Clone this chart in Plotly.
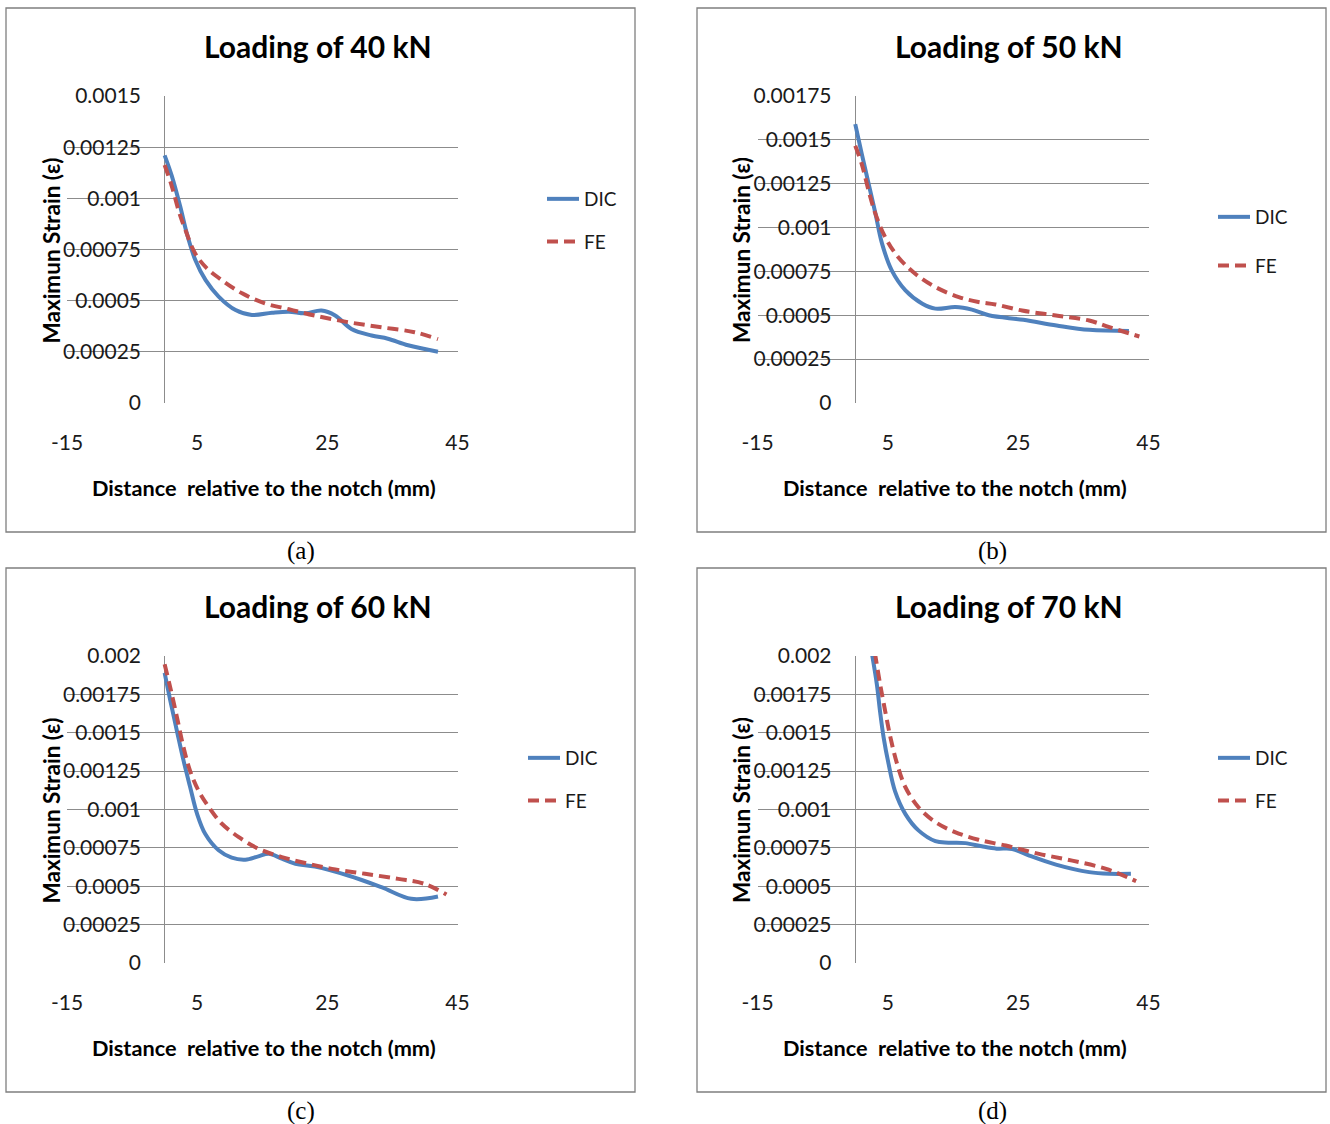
import plotly.graph_objects as go

W, H = 1330, 1124

# ---------------- data ----------------
titles = ["Loading of 40 kN", "Loading of 50 kN", "Loading of 60 kN", "Loading of 70 kN"]
captions = ["(a)", "(b)", "(c)", "(d)"]
series_names = ["DIC", "FE"]
x_ticks = [-15, 5, 25, 45]
x_title = "Distance  relative to the notch (mm)"
y_title = "Maximun Strain (\u03b5)"

y_ticks_a = [0, 0.00025, 0.0005, 0.00075, 0.001, 0.00125, 0.0015]
y_text_a = ["0", "0.00025", "0.0005", "0.00075", "0.001", "0.00125", "0.0015"]
y_ticks_b = [0, 0.00025, 0.0005, 0.00075, 0.001, 0.00125, 0.0015, 0.00175]
y_text_b = ["0", "0.00025", "0.0005", "0.00075", "0.001", "0.00125", "0.0015", "0.00175"]
y_ticks_cd = [0, 0.00025, 0.0005, 0.00075, 0.001, 0.00125, 0.0015, 0.00175, 0.002]
y_text_cd = ["0", "0.00025", "0.0005", "0.00075", "0.001", "0.00125", "0.0015", "0.00175", "0.002"]

# (a) 40 kN
dic_a_x = [0, 1.1, 2.4, 3.4, 4.7, 6.3, 8.3, 10.9, 13.4, 16.5, 19.1, 21.6, 24.1, 26.2, 28.7,
           31.8, 34.3, 37.4, 42]
dic_a_y = [0.00121, 0.00111, 0.00096, 0.00083, 0.0007, 0.0006, 0.00052, 0.000454, 0.00043,
           0.000441, 0.000446, 0.000438, 0.000452, 0.000428, 0.000362, 0.00033, 0.000314,
           0.000282, 0.00025]
fe_a_x = [0, 1.1, 2.15, 3.2, 4.7, 6.5, 8.8, 11.9, 15.4, 19.1, 23.1, 28.2, 33.3, 38.4, 42]
fe_a_y = [0.001163, 0.00106, 0.00094, 0.000845, 0.00073, 0.000658, 0.0006, 0.000536, 0.000487,
          0.000458, 0.000427, 0.000395, 0.00037, 0.000346, 0.000312]

# (b) 50 kN
dic_b_x = [0, 1.0, 2.05, 3.1, 4.1, 5.6, 7.7, 10.3, 12.3, 15.4, 17.9, 20.5, 25.8, 30.9, 35.9, 42]
dic_b_y = [0.00159, 0.00142, 0.00125, 0.00108, 0.00091, 0.000756, 0.000642, 0.000566, 0.000538,
           0.000547, 0.000532, 0.0005, 0.000474, 0.000442, 0.000417, 0.00041]
fe_b_x = [0, 1.0, 2.05, 3.1, 4.6, 6.6, 9.2, 12.3, 15.9, 18.9, 21.5, 25.6, 30.8, 35.9, 39, 43.6]
fe_b_y = [0.001466, 0.001362, 0.00121, 0.001078, 0.000945, 0.000831, 0.000737, 0.000661,
          0.000604, 0.000576, 0.000562, 0.000527, 0.000499, 0.00047, 0.000432, 0.000379]

# (c) 60 kN
dic_c_x = [0, 0.87, 1.9, 2.9, 3.9, 5.0, 6.25, 8.3, 10.3, 12.4, 14.4, 16, 18, 20.1, 23.1, 28.2,
           33.3, 37.9, 42]
dic_c_y = [0.00189, 0.00171, 0.00151, 0.00132, 0.00115, 0.00097, 0.00084, 0.000734, 0.000686,
           0.000673, 0.000695, 0.000712, 0.00068, 0.000647, 0.000628, 0.00057, 0.000494,
           0.000418, 0.000433]
fe_c_x = [0, 0.87, 1.9, 2.9, 3.9, 5.2, 6.8, 8.8, 11.4, 14.4, 18, 21.6, 25.7, 30.8, 35.9, 39.9, 43.3]
fe_c_y = [0.001946, 0.001794, 0.0016, 0.001405, 0.001253, 0.001123, 0.001015, 0.000907, 0.00082,
          0.000745, 0.00069, 0.000651, 0.000613, 0.000581, 0.000548, 0.000516, 0.000446]

# (d) 70 kN
dic_d_x = [2.1, 3.3, 3.8, 4.35, 5.1, 6.1, 7.7, 9.7, 12.3, 14.3, 16.9, 19.4, 21.7, 24.1, 26.7,
           30.8, 35.9, 39, 42.3]
dic_d_y = [0.00213, 0.00182, 0.00164, 0.00147, 0.0013, 0.00112, 0.00097, 0.000864, 0.000794,
           0.000784, 0.000781, 0.00076, 0.000745, 0.000743, 0.0007, 0.000641, 0.000592,
           0.000581, 0.000581]
fe_d_x = [2.6, 3.8, 4.6, 5.4, 6.4, 7.7, 9.7, 12.3, 15.3, 18.9, 23.1, 28.2, 33.3, 38.5, 43.1]
fe_d_y = [0.00213, 0.00182, 0.00164, 0.00147, 0.0013, 0.001145, 0.001015, 0.000918, 0.000853,
          0.000803, 0.000765, 0.000711, 0.000667, 0.000613, 0.000533]

# ---------------- layout helpers ----------------
def fx(p):
    return p / W


def fy(p):
    return 1 - p / H


BLUE = "#4F81BD"
RED = "#C0504D"
GRID = "#8c8c8c"
FONT = "Lato"

panels = [
    dict(dx=dic_a_x, dy=dic_a_y, fx_=fe_a_x, fy_=fe_a_y, yt=y_ticks_a, ytt=y_text_a, ymax=0.0015,
         L=67, R=457.5, T=96, B=403, box=(6, 8, 635, 532), leg=(585, 199, 242), cap=(301, 551)),
    dict(dx=dic_b_x, dy=dic_b_y, fx_=fe_b_x, fy_=fe_b_y, yt=y_ticks_b, ytt=y_text_b, ymax=0.00175,
         L=757.5, R=1148.5, T=96, B=403, box=(697, 8, 1326, 532), leg=(1256, 217, 266), cap=(992, 551)),
    dict(dx=dic_c_x, dy=dic_c_y, fx_=fe_c_x, fy_=fe_c_y, yt=y_ticks_cd, ytt=y_text_cd, ymax=0.002,
         L=67, R=457.5, T=656, B=963, box=(6, 568, 635, 1092), leg=(566, 758, 801), cap=(301, 1111)),
    dict(dx=dic_d_x, dy=dic_d_y, fx_=fe_d_x, fy_=fe_d_y, yt=y_ticks_cd, ytt=y_text_cd, ymax=0.002,
         L=757.5, R=1148.5, T=656, B=963, box=(697, 568, 1326, 1092), leg=(1256, 758, 801), cap=(992, 1111)),
]

fig = go.Figure()
annotations = []
shapes = []
layout = {}

for i, p in enumerate(panels):
    n = "" if i == 0 else str(i + 1)
    xa, ya = "x" + n, "y" + n
    lg = "legend" + n
    fig.add_trace(go.Scatter(
        x=p["dx"], y=p["dy"], xaxis=xa, yaxis=ya, name=series_names[0], mode="lines",
        line=dict(color=BLUE, width=4, shape="spline", smoothing=1.0),
        legend=lg, legendgroup=f"dic{i}", hoverinfo="skip"))
    fig.add_trace(go.Scatter(
        x=p["fx_"], y=p["fy_"], xaxis=xa, yaxis=ya, name=series_names[1], mode="lines",
        line=dict(color=RED, width=4, dash="11px,6px", shape="spline", smoothing=1.0),
        legend=lg, legendgroup=f"fe{i}", hoverinfo="skip"))

    layout["xaxis" + n] = dict(
        domain=[fx(p["L"]), fx(p["R"])], anchor=ya, range=[-15, 45], automargin=False,
        tickmode="array", tickvals=x_ticks, ticktext=[str(v) for v in x_ticks],
        showgrid=False, showline=False, zeroline=True, zerolinecolor=GRID, zerolinewidth=1.3,
        ticks="", ticklabelstandoff=25,
        tickfont=dict(family=FONT, size=21, color="#1a1a1a"), fixedrange=True)
    layout["yaxis" + n] = dict(
        domain=[fy(p["B"]), fy(p["T"])], anchor=xa, range=[0, p["ymax"]], automargin=False,
        tickmode="array", tickvals=p["yt"], ticktext=p["ytt"],
        showgrid=True, gridcolor=GRID, gridwidth=1.3, showline=False, zeroline=False,
        ticks="", ticklabelstandoff=-75,
        tickfont=dict(family=FONT, size=21, color="#1a1a1a"), fixedrange=True)

    lx, ly1, ly2 = p["leg"]
    layout[lg] = dict(
        x=fx(lx - 43), y=fy(ly1 - 19), xanchor="left", yanchor="top",
        bgcolor="rgba(0,0,0,0)", borderwidth=0, itemwidth=32,
        tracegroupgap=ly2 - ly1 - 28, font=dict(family=FONT, size=19, color="#1a1a1a"),
        itemclick=False, itemdoubleclick=False)

    # panel frame
    bx0, by0, bx1, by1 = p["box"]
    shapes.append(dict(type="rect", xref="paper", yref="paper",
                       x0=fx(bx0), x1=fx(bx1), y0=fy(by1), y1=fy(by0),
                       line=dict(color="#7f7f7f", width=1.3), fillcolor="rgba(0,0,0,0)", layer="below"))

    cx = (p["L"] + p["R"]) / 2
    annotations.append(dict(text="<b>" + titles[i] + "</b>", xref="paper", yref="paper",
                            x=fx(cx + 56), y=fy(p["T"] - 50), xanchor="center", yanchor="middle",
                            showarrow=False, font=dict(family=FONT, size=30, color="#000")))
    annotations.append(dict(text="<b>" + x_title + "</b>", xref="paper", yref="paper",
                            x=fx(cx + 2), y=fy(p["B"] + 85), xanchor="center", yanchor="middle",
                            showarrow=False, font=dict(family=FONT, size=21.7, color="#000")))
    annotations.append(dict(text="<b>" + y_title + "</b>", xref="paper", yref="paper",
                            x=fx(p["L"] - 16), y=fy((p["T"] + p["B"]) / 2 + 1), xanchor="center",
                            yanchor="middle", textangle=-90,
                            showarrow=False, font=dict(family=FONT, size=22.5, color="#000")))
    cxp, cyp = p["cap"]
    annotations.append(dict(text=captions[i], xref="paper", yref="paper",
                            x=fx(cxp), y=fy(cyp), xanchor="center", yanchor="middle",
                            showarrow=False, font=dict(family="Liberation Serif", size=25, color="#000")))

fig.update_layout(
    width=W, height=H, margin=dict(l=0, r=0, t=0, b=0, autoexpand=False),
    paper_bgcolor="white", plot_bgcolor="white",
    showlegend=True, annotations=annotations, shapes=shapes, **layout)

fig.write_html("out.html", config={"displayModeBar": False})
